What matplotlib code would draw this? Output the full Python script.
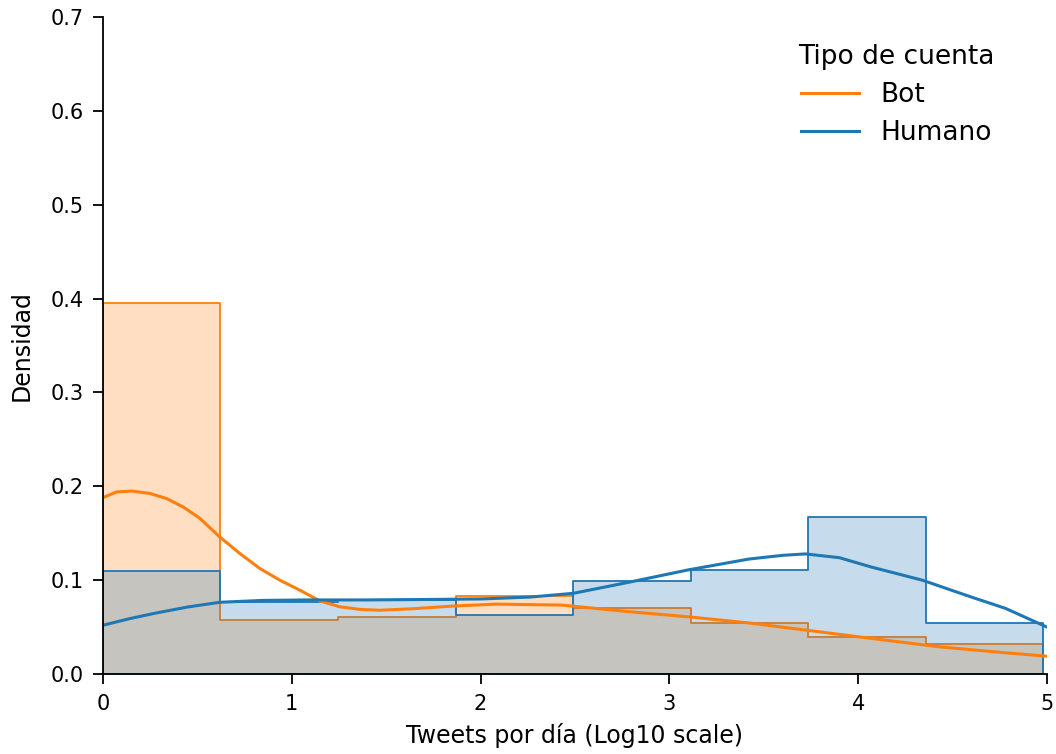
import numpy as np
import matplotlib.pyplot as plt

plt.rcParams['font.family'] = ['DejaVu Sans']

# 直方圖（密度），8 個 bins，資料範圍 0 ~ 4.98
edges = [0.0, 0.6225, 1.245, 1.8675, 2.49, 3.1125, 3.735, 4.3575, 4.98]
bot_dens = [0.3955, 0.0575, 0.061, 0.083, 0.0705, 0.054, 0.0395, 0.032]
hum_dens = [0.1095, 0.0765, 0.079, 0.063, 0.099, 0.111, 0.1675, 0.054]

# KDE 曲線
bot_kde_x = [0.0, 0.072, 0.152, 0.249, 0.337, 0.425, 0.513, 0.619, 0.725, 0.831,
             0.937, 1.042, 1.148, 1.254, 1.36, 1.466, 1.64, 1.85, 2.08, 2.43,
             2.79, 3.1, 3.42, 3.72, 4.07, 4.43, 4.78, 5.0]
bot_kde_y = [0.188, 0.194, 0.195, 0.1924, 0.187, 0.178, 0.166, 0.146, 0.1285,
             0.1125, 0.100, 0.0895, 0.078, 0.0717, 0.0689, 0.068, 0.0696, 0.0724,
             0.0745, 0.0735, 0.0664, 0.061, 0.0545, 0.0469, 0.038, 0.029, 0.0227,
             0.019]
hum_kde_x = [0.0, 0.14, 0.28, 0.45, 0.62, 0.85, 1.1, 1.4, 1.73, 2.0, 2.26, 2.49,
             2.79, 3.1, 3.42, 3.6, 3.72, 3.9, 4.07, 4.34, 4.6, 4.78, 5.0]
hum_kde_y = [0.052, 0.059, 0.065, 0.0715, 0.0765, 0.0785, 0.079, 0.079, 0.0795,
             0.080, 0.082, 0.086, 0.098, 0.111, 0.1225, 0.1265, 0.128, 0.124,
             0.114, 0.100, 0.082, 0.070, 0.050]

c_bot = '#ff7f0e'
c_hum = '#1f77b4'

fig = plt.figure(figsize=(10.56, 7.54), dpi=100)
ax = fig.add_axes([0.0975, 0.106, 0.894, 0.8715])


def step_hist(vals, color):
    x = np.array(edges)
    y = np.append(vals, vals[-1])
    ax.fill_between(x, y, step='post', facecolor=color, alpha=0.25,
                    edgecolor='none')
    ax.fill_between(x, y, step='post', facecolor='none', edgecolor=color,
                    linewidth=1.3)


step_hist(bot_dens, c_bot)
step_hist(hum_dens, c_hum)

ax.plot(bot_kde_x, bot_kde_y, color=c_bot, lw=2.2, label='Bot')
ax.plot(hum_kde_x, hum_kde_y, color=c_hum, lw=2.2, label='Humano')

ax.set_xlim(0, 5)
ax.set_ylim(0, 0.7)
for s in ['top', 'right']:
    ax.spines[s].set_visible(False)
for s in ['left', 'bottom']:
    ax.spines[s].set_linewidth(1.3)
ax.tick_params(labelsize=15, length=7, width=1.3, pad=7)
ax.set_xlabel('Tweets por día (Log10 scale)', fontsize=17, labelpad=7)
ax.set_ylabel('Densidad', fontsize=17, labelpad=12)

leg = ax.legend(title='Tipo de cuenta', loc='upper right', frameon=False,
                fontsize=19, title_fontsize=19, bbox_to_anchor=(0.97, 0.995),
                handlelength=2.2, labelspacing=0.45)

fig.savefig('out.png', dpi=100)
